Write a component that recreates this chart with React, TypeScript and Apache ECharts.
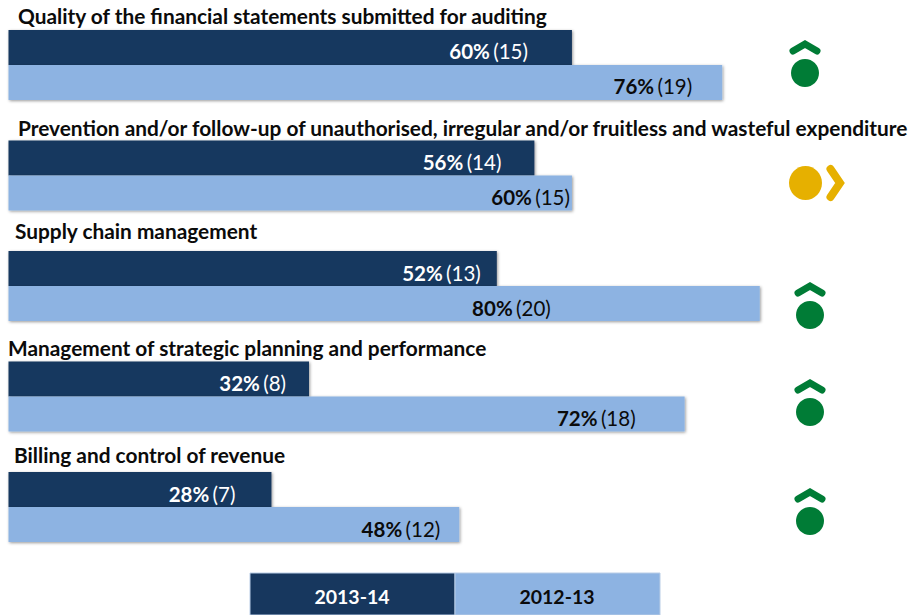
import React, { useEffect, useRef } from "react";
import * as echarts from "echarts";

const categories = [
  "Quality of the financial statements submitted for auditing",
  "Prevention and/or follow-up of unauthorised, irregular and/or fruitless and wasteful expenditure",
  "Supply chain management",
  "Management of strategic planning and performance",
  "Billing and control of revenue",
];
const seriesNames = ["2013-14", "2012-13"];
const pct1314 = [60, 56, 52, 32, 28];
const pct1213 = [76, 60, 80, 72, 48];
const count1314 = [15, 14, 13, 8, 7];
const count1213 = [19, 15, 20, 18, 12];
const inset1314 = [44, 33, 16, 23, 36];
const inset1213 = [30, 2, 209, 49, 19];
const titleX = [18, 18, 15, 8, 14];
const titleY = [15, 127, 230, 347, 454];
const trends = ["up", "flat", "up", "up", "up"];
const iconX = [805, 805.5, 810, 810, 810];
const iconY = [73, 183, 315, 412, 521];

const NAVY = "#17375E";
const SKY = "#8DB3E2";
const GREEN = "#007C36";
const AMBER = "#E6B000";
const FONT = "Lato, 'Open Sans', sans-serif";

function barData(values: number[], counts: number[], insets: number[], dark: boolean) {
  const key = dark ? "w" : "k";
  return values.map((value, i) => ({
    value,
    label: {
      show: true,
      position: "insideRight",
      distance: insets[i],
      offset: [0, 4],
      formatter: `{${key}b|${value}%} {${key}n|(${counts[i]})}`,
      rich: {
        wb: { color: "#fff", fontWeight: "bold", fontSize: 20.5, fontFamily: FONT },
        wn: { color: "#fff", fontSize: 20.5, fontFamily: FONT },
        kb: { color: "#0b0b0b", fontWeight: "bold", fontSize: 20.5, fontFamily: FONT },
        kn: { color: "#0b0b0b", fontSize: 20.5, fontFamily: FONT },
      },
    },
  }));
}

function icon(trend: string, x: number, y: number) {
  if (trend === "up") {
    return [
      { type: "ellipse", shape: { cx: x, cy: y, rx: 14, ry: 14 }, style: { fill: GREEN } },
      {
        type: "polyline",
        shape: { points: [[x - 12, y - 22], [x, y - 29], [x + 12, y - 22]] },
        style: { stroke: GREEN, lineWidth: 7, fill: "none", lineCap: "round", lineJoin: "miter" },
      },
    ];
  }
  return [
    { type: "ellipse", shape: { cx: x, cy: y, rx: 16.5, ry: 17 }, style: { fill: AMBER } },
    {
      type: "polyline",
      shape: { points: [[x + 25, y - 14], [x + 34.5, y], [x + 25, y + 14]] },
      style: { stroke: AMBER, lineWidth: 8, fill: "none", lineCap: "round", lineJoin: "miter" },
    },
  ];
}

export default function App() {
  const ref = useRef<HTMLDivElement>(null);
  useEffect(() => {
    document.body.style.margin = "0";
    const chart = echarts.init(ref.current!, undefined, { renderer: "svg" });
    const titles = categories.map((text, i) => ({
      type: "text",
      x: titleX[i],
      y: titleY[i],
      style: {
        text,
        fill: "#0b0b0b",
        font: `bold 20.85px ${FONT}`,
        textAlign: "left",
        textVerticalAlign: "middle",
      },
    }));
    const icons = trends.flatMap((t, i) => icon(t, iconX[i], iconY[i]));
    const legendItems = seriesNames.flatMap((name, i) => [
      {
        type: "rect",
        shape: { x: 250 + i * 205, y: 573, width: 205, height: 42 },
        style: { fill: i === 0 ? NAVY : SKY, stroke: "#b9cde6", lineWidth: 1 },
      },
      {
        type: "text",
        x: 352 + i * 205,
        y: 596,
        style: {
          text: name,
          fill: i === 0 ? "#fff" : "#0b0b0b",
          font: `bold 19.5px ${FONT}`,
          textAlign: "center",
          textVerticalAlign: "middle",
        },
      },
    ]);
    const shadow = {
      shadowColor: "rgba(0,0,0,0.4)",
      shadowBlur: 3,
      shadowOffsetX: 1,
      shadowOffsetY: 1,
    };
    chart.setOption({
      animation: false,
      grid: { left: 8.5, top: 9.7, width: 906.5, height: 552.6 },
      xAxis: { type: "value", min: 0, max: 96, show: false },
      yAxis: { type: "category", inverse: true, data: categories, show: false },
      series: [
        {
          name: seriesNames[0],
          type: "bar",
          barWidth: 35,
          barGap: 0,
          z: 2,
          itemStyle: { color: NAVY, ...shadow },
          data: barData(pct1314, count1314, inset1314, true),
        },
        {
          name: seriesNames[1],
          type: "bar",
          barWidth: 35,
          barGap: 0,
          z: 3,
          itemStyle: { color: SKY, ...shadow },
          data: barData(pct1213, count1213, inset1213, false),
        },
      ],
      graphic: { elements: [...titles, ...icons, ...legendItems] },
    });
    return () => chart.dispose();
  }, []);
  return <div ref={ref} style={{ width: 910, height: 615 }} />;
}
